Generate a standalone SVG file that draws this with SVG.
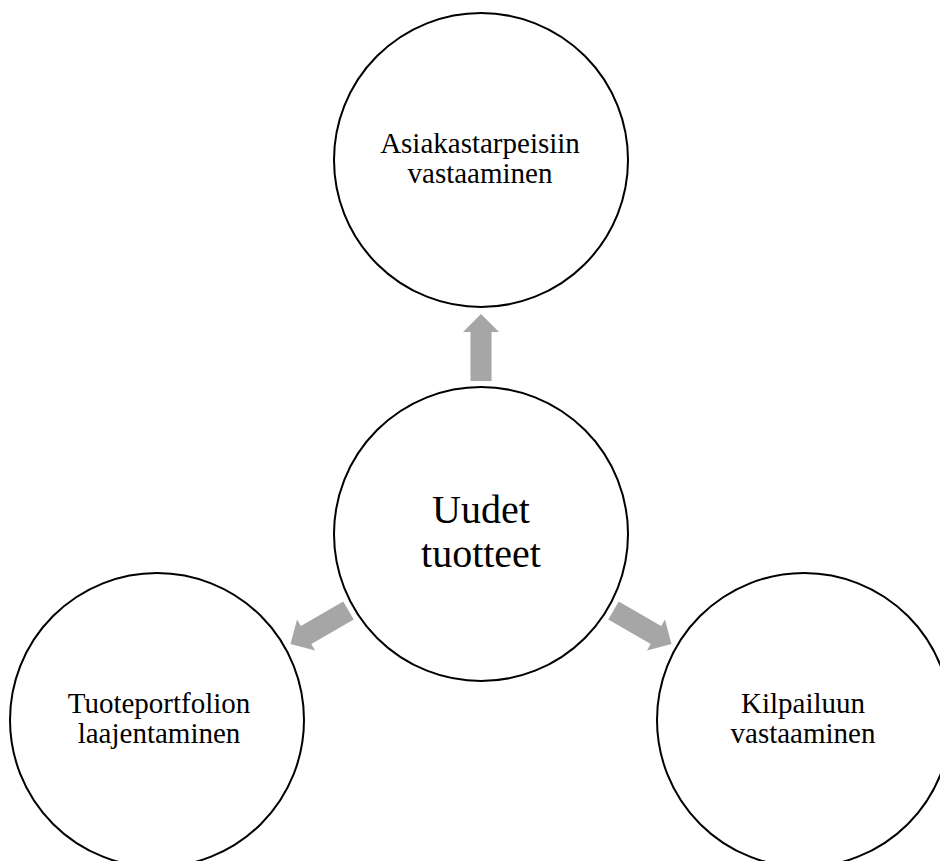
<svg xmlns="http://www.w3.org/2000/svg" width="940" height="861" viewBox="0 0 940 861">
<style>
.node{fill:#ffffff;stroke:#000000;stroke-width:2}
.lbl{font-family:"Liberation Serif","Times New Roman",serif;font-size:29px;fill:#000000;text-anchor:middle}
.big{font-size:40px}
.arrow{fill:#a6a6a6;stroke:none}
</style>
<defs>
<polygon id="arr" points="470.5,381 470.5,332 463,332 481,314 499,332 491.5,332 491.5,381"/>
</defs>
<rect width="940" height="861" fill="#ffffff"/>
<g id="connectors" class="arrow">
<use href="#arr"/>
<use href="#arr" transform="rotate(-120 481 534)"/>
<use href="#arr" transform="rotate(120 481 534)"/>
</g>
<g id="node-top">
<circle class="node" cx="481" cy="160" r="147"/>
<text class="lbl" x="480" y="153">Asiakastarpeisiin</text>
<text class="lbl" x="480" y="183">vastaaminen</text>
</g>
<g id="node-center">
<circle class="node" cx="481" cy="534" r="147"/>
<text class="lbl big" x="481" y="523">Uudet</text>
<text class="lbl big" x="481" y="567">tuotteet</text>
</g>
<g id="node-left">
<circle class="node" cx="157" cy="720" r="147"/>
<text class="lbl" x="159" y="713">Tuoteportfolion</text>
<text class="lbl" x="159" y="743">laajentaminen</text>
</g>
<g id="node-right">
<circle class="node" cx="804" cy="720" r="147"/>
<text class="lbl" x="803" y="713">Kilpailuun</text>
<text class="lbl" x="803" y="743">vastaaminen</text>
</g>
</svg>
